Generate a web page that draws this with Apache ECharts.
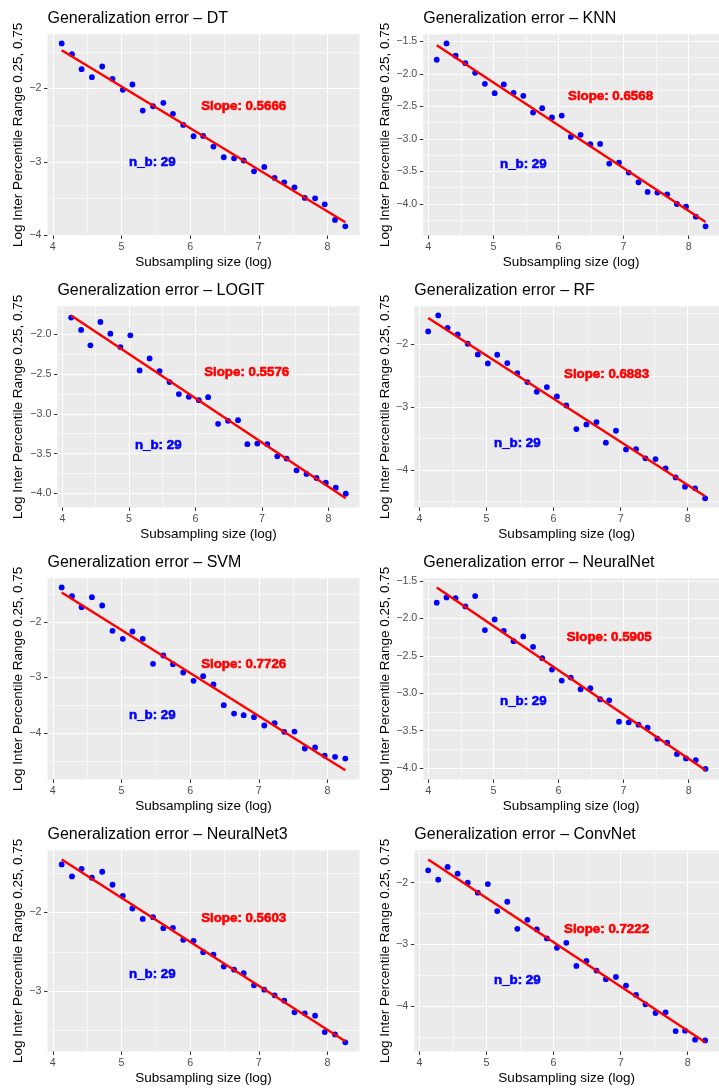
<!DOCTYPE html>
<html>
<head>
<meta charset="utf-8">
<script src="https://cdn.jsdelivr.net/npm/echarts@6/dist/echarts.min.js"></script>
<style>
  html, body { margin: 0; padding: 0; background: #fff; }
  #main { width: 719px; height: 1088px; }
</style>
</head>
<body>
<div id="main"></div>
<script>
// log of the subsampling size, same for every panel
var logSize = [4.13, 4.28, 4.42, 4.57, 4.72, 4.87, 5.02, 5.16, 5.31, 5.46,
               5.61, 5.75, 5.90, 6.05, 6.19, 6.34, 6.49, 6.64, 6.78, 6.93,
               7.08, 7.23, 7.37, 7.52, 7.67, 7.82, 7.96, 8.11, 8.26];

// log inter percentile range per model
var dtErr = [-1.386, -1.532, -1.736, -1.845, -1.70, -1.868, -2.018, -1.945, -2.30, -2.241,
             -2.195, -2.345, -2.495, -2.65, -2.645, -2.79, -2.936, -2.95, -2.98, -3.127,
             -3.068, -3.218, -3.277, -3.345, -3.49, -3.495, -3.577, -3.79, -3.877];
var knnErr = [-1.782, -1.531, -1.72, -1.834, -1.983, -2.152, -2.296, -2.162, -2.29, -2.337,
              -2.593, -2.527, -2.67, -2.64, -2.968, -2.937, -3.081, -3.076, -3.379, -3.363,
              -3.517, -3.666, -3.815, -3.825, -3.851, -4.0, -4.041, -4.195, -4.344];
var logitErr = [-1.79, -1.945, -2.139, -1.845, -1.992, -2.16, -2.013, -2.454, -2.303, -2.462,
                -2.60, -2.752, -2.786, -2.828, -2.79, -3.126, -3.088, -3.08, -3.382, -3.374,
                -3.382, -3.534, -3.563, -3.71, -3.756, -3.807, -3.866, -3.929, -4.004];
var rfErr = [-1.793, -1.538, -1.735, -1.841, -1.989, -2.159, -2.302, -2.164, -2.297, -2.456,
             -2.599, -2.753, -2.679, -2.828, -2.971, -3.347, -3.273, -3.236, -3.565, -3.374,
             -3.671, -3.666, -3.814, -3.825, -3.973, -4.117, -4.265, -4.292, -4.451];
var svmErr = [-1.383, -1.539, -1.737, -1.557, -1.707, -2.162, -2.305, -2.174, -2.305, -2.754,
              -2.605, -2.76, -2.91, -3.06, -2.976, -3.126, -3.497, -3.647, -3.677, -3.713,
              -3.862, -3.82, -3.976, -3.97, -4.275, -4.257, -4.401, -4.425, -4.455];
var nnErr = [-1.79, -1.719, -1.728, -1.839, -1.701, -2.156, -2.013, -2.165, -2.304, -2.241,
             -2.379, -2.531, -2.683, -2.83, -2.79, -2.946, -2.933, -3.08, -3.094, -3.379,
             -3.388, -3.42, -3.46, -3.607, -3.661, -3.813, -3.871, -3.893, -4.009];
var nn3Err = [-1.39, -1.542, -1.445, -1.559, -1.483, -1.648, -1.788, -1.949, -2.081, -2.059,
              -2.199, -2.195, -2.347, -2.36, -2.504, -2.534, -2.686, -2.725, -2.771, -2.924,
              -2.979, -3.051, -3.119, -3.267, -3.28, -3.309, -3.517, -3.547, -3.648];
var convErr = [-1.799, -1.951, -1.745, -1.854, -2.0, -2.163, -2.022, -2.461, -2.309, -2.748,
               -2.602, -2.759, -2.905, -3.057, -2.976, -3.35, -3.268, -3.425, -3.566, -3.528,
               -3.669, -3.821, -3.973, -4.114, -4.103, -4.407, -4.401, -4.547, -4.558];

var models = ['DT', 'KNN', 'LOGIT', 'RF', 'SVM', 'NeuralNet', 'NeuralNet3', 'ConvNet'];
var errors = [dtErr, knnErr, logitErr, rfErr, svmErr, nnErr, nn3Err, convErr];
var slopeText = ['0.5666', '0.6568', '0.5576', '0.6883', '0.7726', '0.5905', '0.5603', '0.7222'];
var nbCount = [29, 29, 29, 29, 29, 29, 29, 29];

// tick labels
var xTicks = [4, 5, 6, 7, 8];
var yTicks = [
  [-4, -3, -2],
  [-4.0, -3.5, -3.0, -2.5, -2.0, -1.5],
  [-4.0, -3.5, -3.0, -2.5, -2.0],
  [-4, -3, -2],
  [-4, -3, -2],
  [-4.0, -3.5, -3.0, -2.5, -2.0, -1.5],
  [-3, -2],
  [-4, -3, -2]
];
var yStep = [1, 0.5, 0.5, 1, 1, 0.5, 1, 1];

// annotate() positions in data units
var slopeAt = [[6.78, -2.245], [6.80, -2.352], [6.77, -2.479], [6.79, -2.477],
               [6.78, -2.766], [6.78, -2.254], [6.78, -2.072], [6.79, -2.764]];
var nbAt = [[5.45, -3.005], [5.46, -3.389], [5.44, -3.399], [5.46, -3.576],
            [5.45, -3.683], [5.46, -3.103], [5.45, -2.788], [5.46, -3.583]];

var FONT = 'Liberation Sans, Arial, sans-serif';

// panel boxes (left edge depends on the tick label width)
var panelLeft = [47.5, 423.3, 57.4, 414.3, 47.5, 423.3, 47.5, 414.3];
var colRight = [359.5, 725.5];
var yTitleX = [18.3, 386.3];

function lmFit(xs, ys) {
  var n = xs.length, sx = 0, sy = 0, sxx = 0, sxy = 0;
  for (var i = 0; i < n; i++) {
    sx += xs[i]; sy += ys[i]; sxx += xs[i] * xs[i]; sxy += xs[i] * ys[i];
  }
  var b = (n * sxy - sx * sy) / (n * sxx - sx * sx);
  var a = (sy - b * sx) / n;
  return [a, b];
}

// ggplot style 5% expansion of the data range
function expanded(vals) {
  var lo = Math.min.apply(null, vals), hi = Math.max.apply(null, vals);
  var pad = 0.05 * (hi - lo);
  return [lo - pad, hi + pad];
}

function fmt(v, step) {
  var s = step < 1 ? v.toFixed(1) : String(Math.round(v));
  return s.replace('-', '\u2212');
}

var grids = [], xAxes = [], yAxes = [], series = [], titles = [];
var xRange = expanded(logSize);

for (var i = 0; i < models.length; i++) {
  var col = i % 2, row = Math.floor(i / 2);
  var panelTop = 34.3 + 272 * row;
  var left = panelLeft[i];
  var width = colRight[col] - left;

  var fit = lmFit(logSize, errors[i]);
  var x0 = logSize[0], x1 = logSize[logSize.length - 1];
  var fitLine = [[x0, fit[0] + fit[1] * x0], [x1, fit[0] + fit[1] * x1]];
  // the range covers points and the fitted line, as ggplot does
  var yRange = expanded(errors[i].concat([fitLine[0][1], fitLine[1][1]]));

  grids.push({
    left: left, top: panelTop, width: width, height: 201.2,
    show: true, backgroundColor: '#EBEBEB', borderWidth: 0
  });

  titles.push({
    text: 'Generalization error \u2013 ' + models[i],
    left: left, top: 272 * row + 11, padding: 0,
    textStyle: { fontFamily: FONT, fontSize: 16, fontWeight: 'normal', color: '#000' }
  });

  xAxes.push({
    gridIndex: i, type: 'value',
    min: xRange[0], max: xRange[1], splitNumber: Math.round(xRange[1] - xRange[0]),
    name: 'Subsampling size (log)', nameLocation: 'middle', nameGap: 19.5,
    nameTextStyle: { fontFamily: FONT, fontSize: 13.5, color: '#000', verticalAlign: 'top' },
    axisLine: { show: false },
    axisTick: { show: true, length: 3.5, customValues: xTicks, lineStyle: { color: '#333', width: 1 } },
    axisLabel: {
      customValues: xTicks, margin: 6, color: '#4D4D4D', fontFamily: FONT, fontSize: 10.7
    },
    splitLine: { show: true, lineStyle: { color: '#fff', width: 1.1 } },
    minorTick: { show: false, splitNumber: 2 },
    minorSplitLine: { show: true, lineStyle: { color: '#fff', width: 0.55 } }
  });

  (function (step, ticks) {
    yAxes.push({
      gridIndex: i, type: 'value',
      min: yRange[0], max: yRange[1], splitNumber: Math.round((yRange[1] - yRange[0]) / step),
      name: 'Log Inter Percentile Range 0.25, 0.75', nameLocation: 'middle', nameRotate: 90,
      nameGap: left - yTitleX[col] - 6.75,
      nameTextStyle: { fontFamily: FONT, fontSize: 13.5, color: '#000' },
      axisLine: { show: false },
      axisTick: { show: true, length: 3.5, customValues: ticks, lineStyle: { color: '#333', width: 1 } },
      axisLabel: {
        customValues: ticks, margin: 6, color: '#4D4D4D', fontFamily: FONT, fontSize: 10.7,
        formatter: function (v) { return fmt(v, step); }
      },
      splitLine: { show: true, lineStyle: { color: '#fff', width: 1.1 } },
      minorTick: { show: false, splitNumber: 2 },
      minorSplitLine: { show: true, lineStyle: { color: '#fff', width: 0.55 } }
    });
  })(yStep[i], yTicks[i]);

  var pts = logSize.map(function (x, k) { return [x, errors[i][k]]; });

  series.push({
    type: 'scatter', xAxisIndex: i, yAxisIndex: i, data: pts,
    symbolSize: 5.8, itemStyle: { color: '#0000FF', opacity: 1 }, silent: true, z: 2
  });
  series.push({
    type: 'line', xAxisIndex: i, yAxisIndex: i, data: fitLine,
    showSymbol: false, lineStyle: { color: '#FF0000', width: 2.4 }, silent: true, z: 3
  });
  series.push({
    type: 'scatter', xAxisIndex: i, yAxisIndex: i, symbolSize: 0, silent: true, z: 4,
    data: [
      { value: slopeAt[i], label: { formatter: 'Slope: ' + slopeText[i], color: '#FF0000', textBorderColor: '#FF0000' } },
      { value: nbAt[i], label: { formatter: 'n_b: ' + nbCount[i], color: '#0000FF', textBorderColor: '#0000FF' } }
    ],
    label: {
      show: true, position: 'inside', fontFamily: FONT, fontSize: 13.3, fontWeight: 'bold',
      textBorderWidth: 0.6, opacity: 1
    }
  });
}

var myChart = echarts.init(document.getElementById('main'));
myChart.setOption({
  animation: false,
  title: titles,
  grid: grids,
  xAxis: xAxes,
  yAxis: yAxes,
  series: series
});
</script>
</body>
</html>
